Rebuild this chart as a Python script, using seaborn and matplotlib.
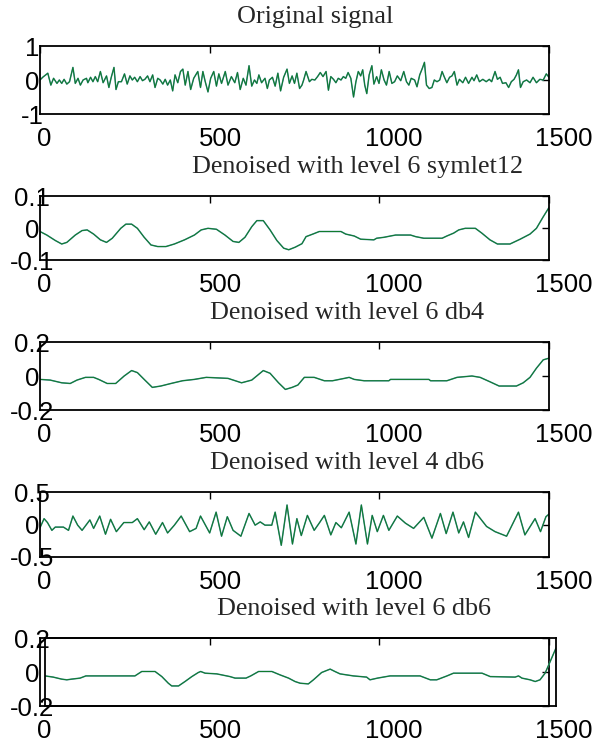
import matplotlib
matplotlib.use("Agg")
import matplotlib.pyplot as plt
import matplotlib.transforms as mtransforms
import seaborn as sns

# ---- values (sample index, amplitude) ----
orig_x = [0, 8, 23, 32, 40, 50, 57, 64, 71, 79,
          87, 97, 104, 112, 119, 127, 137, 141, 149, 156,
          163, 170, 178, 186, 196, 203, 210, 218, 224, 231,
          240, 249, 257, 265, 272, 279, 287, 295, 302, 309,
          317, 324, 332, 339, 347, 354, 362, 369, 376, 384,
          391, 398, 406, 414, 421, 428, 436, 444, 453, 465,
          473, 480, 487, 495, 503, 512, 520, 527, 535, 546,
          554, 564, 574, 582, 590, 599, 607, 616, 624, 632,
          639, 645, 653, 663, 670, 676, 685, 693, 701, 709,
          718, 728, 735, 743, 750, 757, 765, 772,
          777, 784, 794, 801, 810, 818, 826, 834, 843, 850,
          857, 865, 872, 879, 887, 894, 901, 908, 916, 924,
          931, 938, 945, 951, 957, 963, 970, 978, 984, 992,
          999, 1006, 1014, 1021, 1029, 1037, 1045, 1053, 1063, 1072,
          1080, 1087, 1094, 1104, 1111, 1119, 1127, 1133, 1139, 1147,
          1155, 1162, 1170, 1178, 1185, 1191, 1199, 1207, 1214, 1221,
          1229, 1236, 1246, 1254, 1263, 1273, 1279, 1287, 1295, 1305,
          1315, 1324, 1331, 1341, 1348, 1356, 1363, 1373, 1381, 1389,
          1397, 1404, 1410, 1416, 1424, 1434, 1444, 1453, 1463, 1473,
          1483, 1492, 1500]
orig_y = [0, 0.08, 0.2, -0.15, 0.05, -0.1, 0, -0.1, 0.02, -0.12,
          -0.05, 0.37, -0.1, 0.05, -0.15, 0, 0.05, -0.08, 0.08, -0.05,
          0.1, -0.05, 0.25, -0.08, 0.12, -0.22, 0.08, 0.37, -0.28, -0.05,
          -0.05, 0.18, -0.12, 0.12, 0, 0.08, -0.05, 0.1, -0.02, 0.02,
          0.12, -0.05, 0.15, -0.22, 0.05, 0, -0.12, 0.02, -0.15, 0,
          -0.32, 0.15, -0.08, 0.25, 0.32, -0.15, 0.25, -0.28, 0.05, 0.25,
          -0.22, 0.25, -0.05, -0.35, 0.05, 0.25, -0.18, 0.18, -0.1, 0.25,
          -0.15, 0.1, -0.08, 0.22, -0.28, 0.05, -0.15, 0.42, -0.18, 0,
          -0.1, 0.15, -0.08, 0.05, -0.25, 0, 0.08, -0.18, 0.2, -0.32,
          0.08, 0.32, -0.1, 0.12, -0.1, 0.2, -0.25, -0.15,
          0, 0.25, -0.05, 0.02, 0, 0.1, 0.22, 0.1, 0.25, -0.3,
          0.1, 0.02, -0.08, 0.05, 0, 0.1, 0.05, 0.22, 0.05, -0.5,
          -0.05, 0.25, 0.12, 0.3, -0.15, -0.4, 0.15, 0.42, -0.12, 0.1,
          -0.1, 0.3, 0, -0.15, 0.25, -0.1, -0.05, 0.12, -0.02, 0.25,
          -0.05, -0.15, 0.05, 0, -0.2, 0.15, 0.35, 0.52, -0.15, -0.25,
          -0.22, 0, -0.05, 0, 0.25, 0.1, -0.08, 0.08, 0.12, 0.25,
          -0.15, 0.02, -0.08, 0.08, -0.1, 0.08, -0.02, 0.15, -0.05, 0.02,
          -0.05, 0.02, -0.05, 0.25, 0.02, 0.08, -0.1, -0.08, -0.22, -0.05,
          0.02, 0.15, 0.3, -0.22, -0.05, 0, -0.08, 0.08, -0.08, 0.02,
          0, 0.18, 0.08]

sym12_x = [0, 20, 45, 64, 79, 104, 124, 139, 158, 178,
           196, 213, 238, 253, 270, 287, 307, 327, 347, 371,
           396, 426, 455, 475, 495, 520, 545, 569, 586, 604,
           624, 639, 658, 678, 698, 718, 733, 752, 772, 784,
           804, 823, 887, 901, 926, 945, 984, 992, 1014, 1033,
           1048, 1092, 1107, 1131, 1185, 1199, 1219, 1234, 1253, 1283,
           1302, 1326, 1348, 1385, 1415, 1444, 1463, 1483, 1500]
sym12_y = [-0.011, -0.022, -0.039, -0.05, -0.045, -0.022, -0.008, -0.006, -0.019, -0.037,
           -0.045, -0.032, -0.001, 0.012, 0.012, -0.001, -0.029, -0.053, -0.058, -0.058,
           -0.05, -0.037, -0.022, -0.006, -0.001, -0.004, -0.022, -0.042, -0.045, -0.029,
           0.004, 0.023, 0.023, -0.006, -0.039, -0.063, -0.068, -0.06, -0.049, -0.027,
           -0.019, -0.011, -0.011, -0.019, -0.025, -0.035, -0.037, -0.032, -0.029, -0.025,
           -0.022, -0.022, -0.027, -0.032, -0.032, -0.025, -0.016, -0.006, -0.001, -0.001,
           -0.016, -0.037, -0.05, -0.05, -0.035, -0.019, -0.001, 0.035, 0.064]

db4_x = [0, 30, 64, 89, 109, 134, 158, 173, 198, 223,
         248, 270, 287, 309, 331, 356, 386, 420, 455, 490,
         554, 594, 624, 658, 678, 703, 723, 743, 760, 779,
         808, 838, 862, 897, 911, 926, 955, 1028, 1033, 1146,
         1151, 1199, 1229, 1273, 1297, 1326, 1353, 1404, 1424, 1444,
         1463, 1483, 1500]
db4_y = [-0.02, -0.024, -0.04, -0.044, -0.024, -0.008, -0.008, -0.02, -0.044, -0.044,
         0, 0.032, 0.02, -0.024, -0.067, -0.059, -0.044, -0.028, -0.02, -0.008,
         -0.014, -0.04, -0.024, 0.032, 0.016, -0.04, -0.079, -0.067, -0.053, -0.008,
         -0.008, -0.028, -0.028, -0.014, -0.008, -0.02, -0.028, -0.028, -0.02, -0.02,
         -0.028, -0.028, -0.008, 0, -0.008, -0.034, -0.059, -0.059, -0.04, -0.008,
         0.046, 0.095, 0.105]

l4db6_x = [0, 12, 22, 35, 45, 69, 84, 97, 111, 124,
           147, 158, 176, 193, 208, 225, 247, 272, 287, 307,
           322, 341, 361, 376, 396, 416, 441, 460, 473, 500,
           519, 535, 552, 569, 592, 616, 634, 649, 663, 683,
           693, 711, 728, 744, 757, 770, 788, 808, 824, 838,
           857, 872, 888, 911, 931, 947, 965, 979, 994, 1012,
           1028, 1053, 1077, 1101, 1131, 1155, 1180, 1197, 1217, 1234,
           1248, 1263, 1283, 1316, 1341, 1375, 1410, 1429, 1459, 1475,
           1491, 1500]
l4db6_y = [-0.05, 0.09, 0.03, -0.09, -0.04, -0.04, -0.09, 0.13, -0.01, -0.09,
           0.07, -0.06, 0.13, -0.15, 0.08, -0.11, 0.03, 0.03, 0.09, -0.08,
           0.04, -0.15, 0.03, -0.13, -0.01, 0.13, -0.11, -0.06, 0.13, -0.13,
           0.19, -0.18, 0.12, -0.09, -0.18, 0.17, -0.01, 0.04, -0.01, -0.01,
           0.19, -0.32, 0.30, -0.30, 0.09, -0.17, 0.14, -0.09, 0.03, 0.14,
           -0.16, 0.03, -0.05, 0.19, -0.30, 0.30, -0.30, 0.14, -0.11, 0.14,
           -0.09, 0.13, 0.02, -0.06, 0.11, -0.21, 0.17, -0.14, 0.19, -0.13,
           0.04, -0.20, 0.19, -0.03, -0.11, -0.18, 0.19, -0.16, 0.09, -0.11,
           0.12, 0.16]

l6db6_x = [0, 24, 49, 64, 78, 103, 120, 162, 264, 284,
           323, 343, 362, 372, 392, 411, 431, 450, 457, 470,
           504, 543, 558, 590, 604, 627, 666, 690, 715, 734,
           749, 773, 788, 812, 837, 851, 866, 905, 944, 954,
           976, 1013, 1101, 1131, 1150, 1180, 1199, 1283, 1307, 1380,
           1390, 1400, 1424, 1439, 1453, 1468, 1483, 1500]
l6db6_y = [-0.023, -0.03, -0.042, -0.046, -0.042, -0.036, -0.023, -0.023, -0.023, 0.003,
           0.003, -0.027, -0.066, -0.082, -0.082, -0.056, -0.027, -0.003, 0.003, -0.007,
           -0.011, -0.027, -0.036, -0.036, -0.023, 0.003, 0.003, -0.017, -0.036, -0.056,
           -0.066, -0.07, -0.046, -0.003, 0.017, 0.003, -0.011, -0.023, -0.03, -0.046,
           -0.036, -0.023, -0.023, -0.046, -0.046, -0.023, -0.007, -0.007, -0.027, -0.03,
           -0.023, -0.036, -0.046, -0.056, -0.046, -0.007, 0.062, 0.141]

titles = ["Original signal",
          "Denoised with level 6 symlet12",
          "Denoised with level 6 db4",
          "Denoised with level 4 db6",
          "Denoised with level 6 db6"]
ylims = [1, 0.1, 0.2, 0.5, 0.2]
ytick_labels = [["-1", "0", "1"],
                ["-0.1", "0", "0.1"],
                ["-0.2", "0", "0.2"],
                ["-0.5", "0", "0.5"],
                ["-0.2", "0", "0.2"]]
xticks = [0, 500, 1000, 1500]
xtick_labels = ["0", "500", "1000", "1500"]
series = [(orig_x, orig_y), (sym12_x, sym12_y), (db4_x, db4_y),
          (l4db6_x, l4db6_y), (l6db6_x, l6db6_y)]

sns.set_style("white")
plt.rcParams['font.family'] = ['Liberation Sans', 'DejaVu Sans']

W, H = 600, 746
fig = plt.figure(figsize=(W / 100, H / 100), dpi=100)

# axes boxes in pixels (top, bottom)
boxes = [(46, 114), (196, 260), (342, 410), (492, 557), (638, 706)]
title_cx = [0.540, 0.623, 0.603, 0.603, 0.617]


def draw_line(ax, x, y):
    sns.lineplot(x=x, y=y, ax=ax, color='#4a8f9c', lw=1.1, sort=False)
    sns.lineplot(x=x, y=y, ax=ax, color='#0e7a2a', lw=0.7, sort=False)


def frame(ax):
    for sp in ax.spines.values():
        sp.set_linewidth(1.3)
        sp.set_color('black')


for i, (top, bot) in enumerate(boxes):
    ax = fig.add_axes([40 / W, 1 - bot / H, 509 / W, (bot - top) / H])
    lim = ylims[i]
    ax.set_xlim(0, 1500)
    ax.set_ylim(-lim, lim)
    ax.set_xticks(xticks, xtick_labels)
    ax.set_yticks([-lim, 0, lim], ytick_labels[i])
    ax.tick_params(direction='in', length=5, width=1, top=True, right=True,
                   labelsize=18.5, colors='black')
    ax.tick_params(axis='x', pad=9.5)
    ax.tick_params(axis='y', pad=5.8)
    frame(ax)
    for lab in ax.get_yticklabels():
        lab.set_ha('center')
    for tick in ax.xaxis.get_major_ticks():
        n = len(tick.label1.get_text())
        tick.label1.set_ha('left')
        off = mtransforms.ScaledTranslation(-3.5 * n / 100, 0, fig.dpi_scale_trans)
        tick.label1.set_transform(tick.label1.get_transform() + off)

    ax.annotate(titles[i], xy=(title_cx[i], 1), xycoords='axes fraction',
                xytext=(0, 16.3), textcoords='offset points',
                ha='center', va='baseline', fontsize=18.8,
                family=['Liberation Serif', 'DejaVu Serif'])

    x, y = series[i]
    if i < 4:
        draw_line(ax, x, y)
    else:
        # the last trace sits in a slightly shifted, overlapping box
        ax2 = fig.add_axes([45 / W, 1 - bot / H, 511 / W, (bot - top) / H])
        ax2.set_facecolor('none')
        ax2.set_xlim(0, 1500)
        ax2.set_ylim(-lim, lim)
        ax2.set_xticks([])
        ax2.set_yticks([])
        frame(ax2)
        draw_line(ax2, x, y)
        ax2.set_xlabel('')
        ax2.set_ylabel('')
    ax.set_xlabel('')
    ax.set_ylabel('')

fig.savefig("out.png", dpi=100, facecolor='white')
